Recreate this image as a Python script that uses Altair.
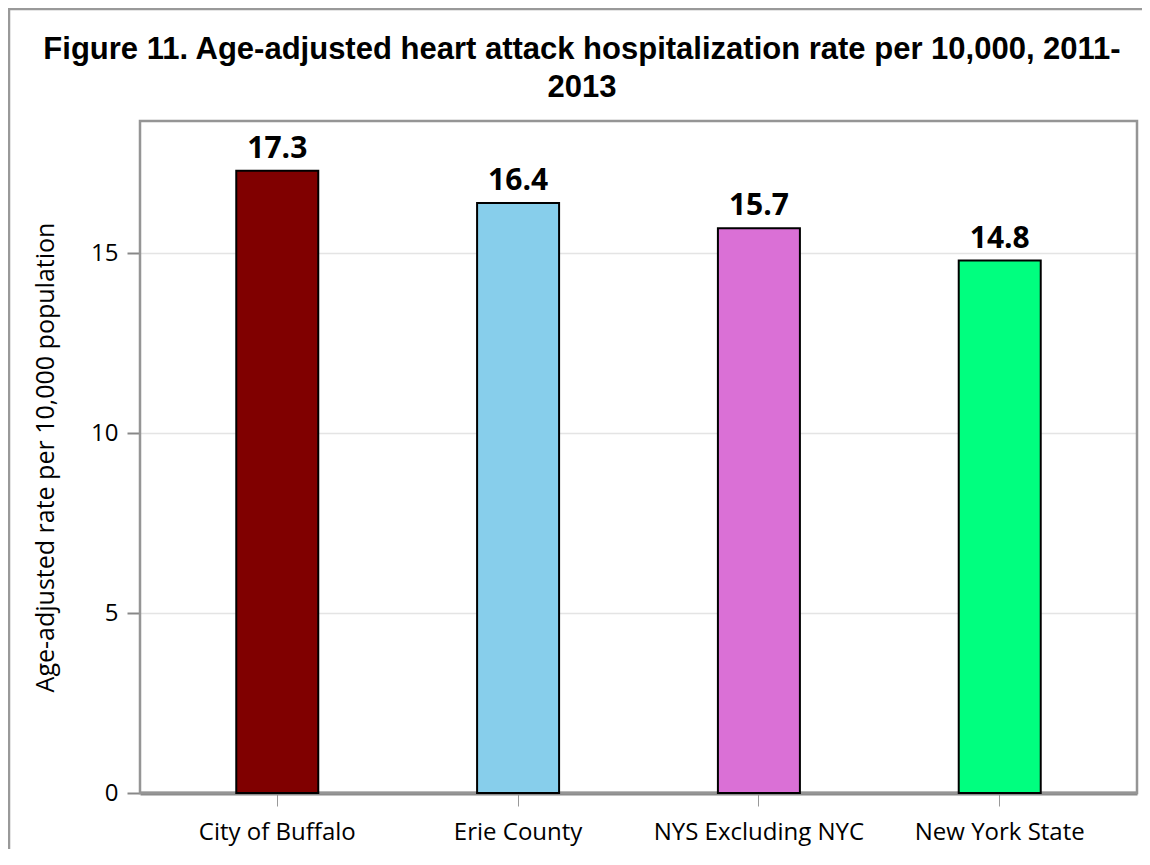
import altair as alt
import pandas as pd

categories = ["City of Buffalo", "Erie County", "NYS Excluding NYC", "New York State"]
values = [17.3, 16.4, 15.7, 14.8]
colors = ["#800000", "#87CEEB", "#DA70D6", "#00FF7F"]
y_ticks = [0, 5, 10, 15]

title_lines = ["Figure 11. Age-adjusted heart attack hospitalization rate per 10,000, 2011-", "2013"]
y_title = "Age-adjusted rate per 10,000 population"

df = pd.DataFrame({"cat": categories, "val": values, "color": colors})

FONT = "Open Sans"
W, H = 997, 672

x_enc = alt.X("cat:N", sort=categories, title=None,
              scale=alt.Scale(paddingInner=0, paddingOuter=0.07),
              axis=alt.Axis(labelAngle=0, labelFont=FONT, labelFontSize=24, labelColor="black",
                            labelPadding=14, labelLimit=0, tickColor="#999", tickSize=13, tickWidth=1,
                            domainColor="#8a8a8a", domainWidth=4, grid=False))
y_enc = alt.Y("val:Q", title=y_title,
              scale=alt.Scale(domain=[0, 18.68], nice=False, zero=True),
              axis=alt.Axis(values=y_ticks, labelFont=FONT, labelFontSize=24, labelColor="black",
                            labelPadding=9, tickColor="#888", tickSize=13, tickWidth=2,
                            domain=False, gridColor="#e4e4e4", gridWidth=1.5,
                            titleFont=FONT, titleFontSize=25, titleFontWeight="normal",
                            titleColor="black", titlePadding=32))

bars = alt.Chart(df).mark_bar(size=82, stroke="black", strokeWidth=2).encode(
    x=x_enc,
    y=y_enc,
    color=alt.Color("color:N", scale=None),
)

labels = alt.Chart(df).mark_text(dy=-13, baseline="alphabetic", font=FONT, fontSize=30,
                                 fontWeight="bold", color="black").encode(
    x=alt.X("cat:N", sort=categories),
    y=alt.Y("val:Q"),
    text=alt.Text("val:Q", format=".1f"),
)

one = pd.DataFrame({"k": [0]})

frame = alt.Chart(one).mark_rect(fillOpacity=0, stroke="#999", strokeWidth=2.5, clip=False).encode(
    x=alt.value(-131), x2=alt.value(1300), y=alt.value(-112), y2=alt.value(1000)
)

plot_border = alt.Chart(one).mark_rect(fillOpacity=0, stroke="#959595", strokeWidth=2.5, clip=False).encode(
    x=alt.value(0), x2=alt.value(W), y=alt.value(0), y2=alt.value(H)
)

title = alt.Chart(one).mark_text(
    text=title_lines, font="Liberation Sans", fontSize=31, fontWeight="bold", color="black",
    align="center", baseline="alphabetic", lineHeight=38,
).encode(x=alt.value(442), y=alt.value(-62))

chart = alt.layer(frame, plot_border, bars, labels, title).properties(
    width=W, height=H,
    padding={"left": 132, "top": 113, "right": 5, "bottom": 56},
    autosize=alt.AutoSizeParams(type="none"),
).configure_view(stroke=None).configure(background="white")

chart.save("out.html", embed_options={"renderer": "svg", "actions": False})
